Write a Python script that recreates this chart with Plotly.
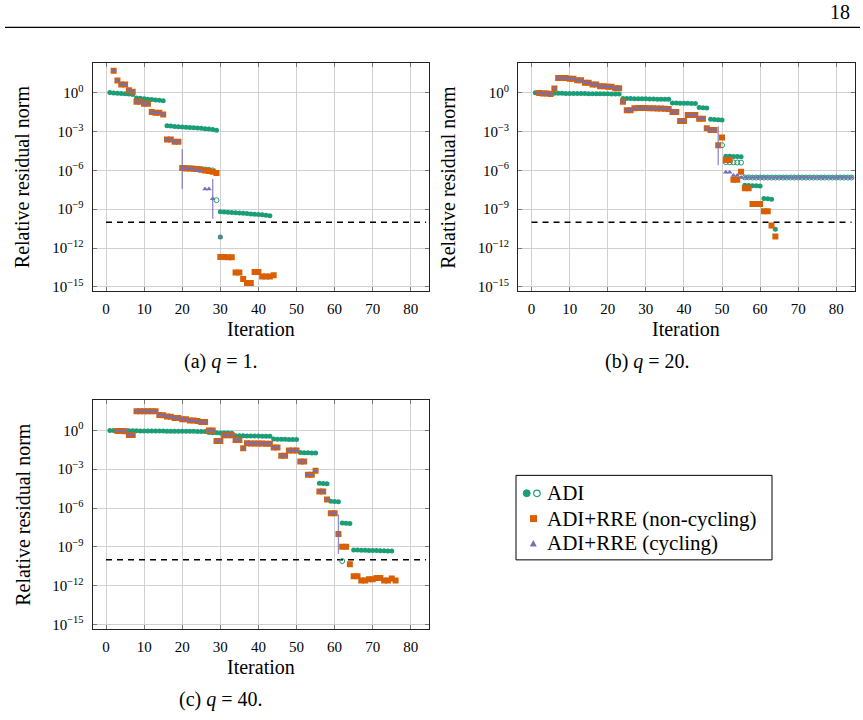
import plotly.graph_objects as go

W, H = 863, 720
GREEN = "#1b9e77"
ORANGE = "#d95f02"
PURPLE = "#7570b3"
FONT = "Liberation Serif, Times New Roman, serif"

# ------------------------------------------------------------------
# DATA  (values are log10 of the relative residual norm)
# ------------------------------------------------------------------
x_ticks = [0, 10, 20, 30, 40, 50, 60, 70, 80]
y_tick_exp = [0, -3, -6, -9, -12, -15]
tolerance = 1e-10
tol_span = [0, 84]

# ---- (a) q = 1 ----
a_adi_it = list(range(1, 44)) + [30]
a_adi_e = [0.02, -0.01, -0.03, -0.05, -0.08, -0.1, -0.13,
           -0.4, -0.43, -0.46, -0.49, -0.52, -0.55, -0.58, -0.62,
           -2.55, -2.57, -2.6, -2.62, -2.64, -2.66, -2.68, -2.7, -2.73, -2.75, -2.78, -2.8, -2.84, -2.9,
           -9.2, -9.22, -9.24, -9.26, -9.28, -9.3, -9.32, -9.34, -9.36, -9.38, -9.4, -9.43, -9.46, -9.5,
           -11.15]
a_open_it = [21, 22, 23, 24, 25, 26, 27, 28, 29]
a_open_e = [-5.82, -5.84, -5.86, -5.88, -5.9, -5.93, -5.96, -6.0, -8.3]
a_rre_it = list(range(2, 45))
a_rre_e = [1.7, 0.95, 0.64, 0.64, 0.2, 0.08, -0.69, -0.69, -0.85, -0.85,
           -1.49, -1.54, -1.54, -1.67, -3.62, -3.62, -3.78, -3.78,
           -5.82, -5.85, -5.85, -5.88, -5.9, -5.95, -6.0, -6.05, -6.1, -6.2,
           -12.7, -12.7, -12.72, -12.72, -13.9, -13.9, -14.4, -14.7, -14.7,
           -13.85, -13.85, -14.2, -14.2, -14.2, -14.1]
a_cyc_it = list(range(2, 29)) + [30]
a_cyc_e = [1.7, 0.95, 0.64, 0.64, 0.2, 0.08, -0.69, -0.69, -0.85, -0.85,
           -1.49, -1.54, -1.54, -1.67, -3.62, -3.62, -3.78, -3.78,
           -5.82, -5.85, -5.85, -5.88, -6.03, -6.03, -7.44, -7.44, -8.2, -11.15]
a_jump_it = [20, 28]
a_jump_lo = [-7.44, -9.74]
a_jump_hi = [-4.36, -6.67]

# ---- (b) q = 20 ----
b_adi_it = list(range(1, 65))
b_adi_e = [0.0, -0.01, -0.02, -0.02, -0.03, -0.03, -0.04, -0.04, -0.05, -0.05, -0.05, -0.06,
           -0.06, -0.06, -0.07, -0.07, -0.07, -0.08, -0.08, -0.08, -0.09, -0.09, -0.1,
           -0.44, -0.45, -0.45, -0.46, -0.46, -0.47, -0.47, -0.48, -0.48, -0.49, -0.49, -0.5, -0.5,
           -0.78, -0.79, -0.8, -0.8, -0.81, -0.82, -0.83,
           -1.13, -1.15, -1.17,
           -2.05, -2.07, -2.08, -2.1,
           -4.9, -4.91, -4.92, -4.93, -4.94,
           -7.15, -7.17, -7.18, -7.19, -7.2,
           -8.18, -8.2, -8.22,
           -10.55]
b_open_it = list(range(50, 85))
b_open_e = [-4.05, -5.36, -5.37, -5.38, -5.39, -5.4,
            -6.54, -6.54, -6.55, -6.55, -6.55, -6.55, -6.55, -6.55, -6.55, -6.55,
            -6.55, -6.55, -6.55, -6.55, -6.55, -6.55, -6.55, -6.55, -6.55, -6.55,
            -6.55, -6.55, -6.55, -6.55, -6.55, -6.55, -6.55, -6.55, -6.55]
b_rre_it = list(range(2, 65))
b_rre_e = [-0.02, -0.05, -0.05, -0.1, 0.33, 1.15, 1.15, 1.15, 1.08, 1.08, 0.97, 0.97,
           0.77, 0.77, 0.64, 0.64, 0.51, 0.51, 0.46, 0.46, 0.36, 0.36,
           -0.7, -1.34, -1.34, -1.2, -1.18, -1.17, -1.17, -1.2, -1.2, -1.22, -1.22, -1.24, -1.26,
           -1.49, -1.49, -2.18, -2.18, -1.72, -1.72, -1.72, -2.0, -2.0, -2.75, -2.87, -2.87,
           -4.05, -3.46, -5.2, -5.2, -6.72, -6.72, -6.1, -7.38, -7.38,
           -8.6, -8.6, -8.6, -9.15, -9.15, -10.26, -11.1]
b_cyc_it = list(range(2, 50)) + list(range(51, 85))
b_cyc_e = b_rre_e[:48] + [-6.15, -6.15, -6.4, -6.4,
                          -6.55, -6.55, -6.55, -6.55, -6.55, -6.55, -6.55, -6.55, -6.55, -6.55,
                          -6.55, -6.55, -6.55, -6.55, -6.55, -6.55, -6.55, -6.55, -6.55, -6.55,
                          -6.55, -6.55, -6.55, -6.55, -6.55, -6.55, -6.55, -6.55, -6.55, -6.55]
b_jump_it = [49]
b_jump_lo = [-5.6]
b_jump_hi = [-2.6]

# ---- (c) q = 40 ----
c_adi_it = list(range(1, 76))
c_adi_e = [0.0, -0.01, -0.01, -0.02, -0.02, -0.03, -0.03, -0.03, -0.04, -0.04, -0.04, -0.05, -0.05,
           -0.05, -0.05, -0.06, -0.06, -0.06, -0.06, -0.07, -0.07, -0.07, -0.07, -0.08, -0.08, -0.08,
           -0.17, -0.18, -0.19, -0.2, -0.2, -0.21, -0.22,
           -0.41, -0.42, -0.42, -0.43, -0.43, -0.44, -0.44, -0.45, -0.45, -0.46,
           -0.67, -0.68, -0.68, -0.69, -0.7, -0.7, -0.71,
           -1.71, -1.72, -1.73, -1.74, -1.75,
           -4.08, -4.1, -4.12,
           -5.48, -5.5, -5.52,
           -7.16, -7.18, -7.2,
           -9.24, -9.25, -9.26, -9.27, -9.28, -9.28, -9.29, -9.3, -9.31, -9.32, -9.33]
c_open_it = [62]
c_open_e = [-10.1]
c_rre_it = list(range(3, 77))
c_rre_e = [-0.05, -0.05, -0.06, -0.36, -0.36, 1.49, 1.49, 1.49, 1.49, 1.49, 1.49,
           1.2, 1.18, 1.07, 1.05, 0.95, 0.95, 0.87, 0.87, 0.77, 0.76, 0.72, 0.65, 0.64,
           0.0, 0.0, -0.82, -0.82, -0.38, -0.38, -0.38, -0.74, -0.74, -1.38,
           -1.0, -1.01, -1.01, -1.02, -1.02, -1.03, -1.03, -1.33, -1.33, -1.95, -1.95,
           -1.55, -1.55, -1.55, -2.41, -2.41, -3.43, -3.43, -3.12, -4.72, -4.72, -5.35,
           -6.4, -6.4, -8.0, -9.0, -9.0, -10.35, -11.28, -11.28, -11.6, -11.6,
           -11.5, -11.5, -11.4, -11.4, -11.6, -11.6, -11.45, -11.6]
c_cyc_it = list(range(3, 62))
c_cyc_e = c_rre_e[:59]
c_jump_it = [61]
c_jump_lo = [-9.54]
c_jump_hi = [-6.5]

panels = [
    dict(ax="", adi=(a_adi_it, a_adi_e), open=(a_open_it, a_open_e), rre=(a_rre_it, a_rre_e),
         cyc=(a_cyc_it, a_cyc_e), jump=(a_jump_it, a_jump_lo, a_jump_hi),
         box=(92.7, 429.1, 63, 293), caption="(a) <i>q</i> = 1.", cap_x=220, cap_y=364),
    dict(ax="2", adi=(b_adi_it, b_adi_e), open=(b_open_it, b_open_e), rre=(b_rre_it, b_rre_e),
         cyc=(b_cyc_it, b_cyc_e), jump=(b_jump_it, b_jump_lo, b_jump_hi),
         box=(518.2, 854.6, 63, 293), caption="(b) <i>q</i> = 20.", cap_x=647, cap_y=364),
    dict(ax="3", adi=(c_adi_it, c_adi_e), open=(c_open_it, c_open_e), rre=(c_rre_it, c_rre_e),
         cyc=(c_cyc_it, c_cyc_e), jump=(c_jump_it, c_jump_lo, c_jump_hi),
         box=(92.7, 429.1, 402.5, 632.5), caption="(c) <i>q</i> = 40.", cap_x=220, cap_y=703),
]


def pow10(es):
    return [10 ** e for e in es]


def fx(p):
    return p / W


def fy(p):
    return 1 - p / H


fig = go.Figure()
annotations = []
shapes = []

for p in panels:
    xa, ya = "x" + p["ax"], "y" + p["ax"]
    # threshold
    fig.add_trace(go.Scatter(x=tol_span, y=[tolerance, tolerance], mode="lines", xaxis=xa, yaxis=ya,
                             line=dict(color="black", width=1.5, dash="6px,5px"), showlegend=False,
                             hoverinfo="skip"))
    fig.add_trace(go.Scatter(x=p["adi"][0], y=pow10(p["adi"][1]), mode="markers", xaxis=xa, yaxis=ya,
                             marker=dict(symbol="circle", size=5, color=GREEN), showlegend=False))
    fig.add_trace(go.Scatter(x=p["open"][0], y=pow10(p["open"][1]), mode="markers", xaxis=xa, yaxis=ya,
                             marker=dict(symbol="circle-open", size=5, color=GREEN, line=dict(width=1)),
                             showlegend=False))
    fig.add_trace(go.Scatter(x=p["rre"][0], y=pow10(p["rre"][1]), mode="markers", xaxis=xa, yaxis=ya,
                             marker=dict(symbol="square", size=6, color=ORANGE), showlegend=False))
    fig.add_trace(go.Scatter(x=p["cyc"][0], y=pow10(p["cyc"][1]), mode="markers", xaxis=xa, yaxis=ya,
                             marker=dict(symbol="triangle-up", size=5, color=PURPLE), showlegend=False))
    for it, lo, hi in zip(*p["jump"]):
        fig.add_trace(go.Scatter(x=[it, it], y=[10 ** lo, 10 ** hi], mode="lines", xaxis=xa, yaxis=ya,
                                 line=dict(color=PURPLE, width=1.3), opacity=0.8, showlegend=False))

    x0, x1, y0, y1 = p["box"]
    common = dict(showgrid=True, gridcolor="#d0d0d0", gridwidth=1, zeroline=False, showline=True,
                  linecolor="#222", linewidth=1.2, mirror="allticks", ticks="inside", ticklen=4,
                  tickcolor="#777", tickwidth=1,
                  tickfont=dict(family=FONT, size=15, color="black"))
    fig.layout["xaxis" + p["ax"]] = dict(domain=[fx(x0), fx(x1)], anchor=ya, range=[-3.5, 84.8],
                                         tickvals=x_ticks, ticktext=[str(v) for v in x_ticks],
                                         ticklabelstandoff=4, **common)
    fig.layout["yaxis" + p["ax"]] = dict(domain=[fy(y1), fy(y0)], anchor=xa, type="log",
                                         range=[-15.35, 2.33],
                                         tickvals=[10.0 ** e for e in y_tick_exp],
                                         ticktext=["10<sup>%s</sup>" % (str(e).replace("-", "\u2212"))
                                                   for e in y_tick_exp],
                                         ticklabelstandoff=5, **common)
    # axis titles and caption
    annotations.append(dict(x=fx(x0 - 70.5), y=fy((y0 + y1) / 2), xref="paper", yref="paper",
                            text="Relative residual norm", textangle=-90, showarrow=False,
                            font=dict(family=FONT, size=20, color="black"),
                            xanchor="center", yanchor="middle"))
    annotations.append(dict(x=fx((x0 + x1) / 2), y=fy(y1 + 38), xref="paper", yref="paper",
                            text="Iteration", showarrow=False,
                            font=dict(family=FONT, size=20, color="black"),
                            xanchor="center", yanchor="middle"))
    annotations.append(dict(x=fx(p["cap_x"]), y=fy(p["cap_y"]), xref="paper", yref="paper",
                            text=p["caption"], showarrow=False,
                            font=dict(family=FONT, size=20, color="black"),
                            xanchor="center", yanchor="middle"))

# page header
annotations.append(dict(x=fx(852), y=fy(12), xref="paper", yref="paper", text="18", showarrow=False,
                        font=dict(family=FONT, size=20, color="black"), xanchor="right", yanchor="middle"))
shapes.append(dict(type="line", xref="paper", yref="paper", x0=fx(5), x1=fx(860), y0=fy(27.5), y1=fy(27.5),
                   line=dict(color="black", width=1.4)))

# legend box
shapes.append(dict(type="rect", xref="paper", yref="paper", x0=fx(516), x1=fx(772), y0=fy(478), y1=fy(563),
                   line=dict(color="black", width=1), fillcolor="white", layer="below"))
shapes.append(dict(type="circle", xref="paper", yref="paper", x0=fx(523.2), x1=fx(530.2),
                   y0=fy(499.5), y1=fy(492.5), fillcolor=GREEN, line=dict(color=GREEN, width=1)))
shapes.append(dict(type="circle", xref="paper", yref="paper", x0=fx(533.7), x1=fx(540.2),
                   y0=fy(499.3), y1=fy(492.8), fillcolor="rgba(0,0,0,0)", line=dict(color=GREEN, width=1.2)))
shapes.append(dict(type="rect", xref="paper", yref="paper", x0=fx(530), x1=fx(537),
                   y0=fy(525), y1=fy(518), fillcolor=ORANGE, line=dict(width=0)))
shapes.append(dict(type="path", xref="paper", yref="paper",
                   path="M %f %f L %f %f L %f %f Z" % (fx(529.8), fy(549.5), fx(536.8), fy(549.5),
                                                        fx(533.3), fy(543)),
                   fillcolor=PURPLE, line=dict(width=0)))
for txt, yy in [("ADI", 496), ("ADI+RRE (non-cycling)", 521.5), ("ADI+RRE (cycling)", 546.5)]:
    annotations.append(dict(x=fx(545), y=fy(yy), xref="paper", yref="paper", text=txt, showarrow=False,
                            font=dict(family=FONT, size=21, color="black"), xanchor="left",
                            yanchor="middle"))

fig.update_layout(width=W, height=H, margin=dict(l=0, r=0, t=0, b=0), paper_bgcolor="white",
                  plot_bgcolor="white", showlegend=False, annotations=annotations, shapes=shapes,
                  font=dict(family=FONT))
fig.write_html("out.html")
